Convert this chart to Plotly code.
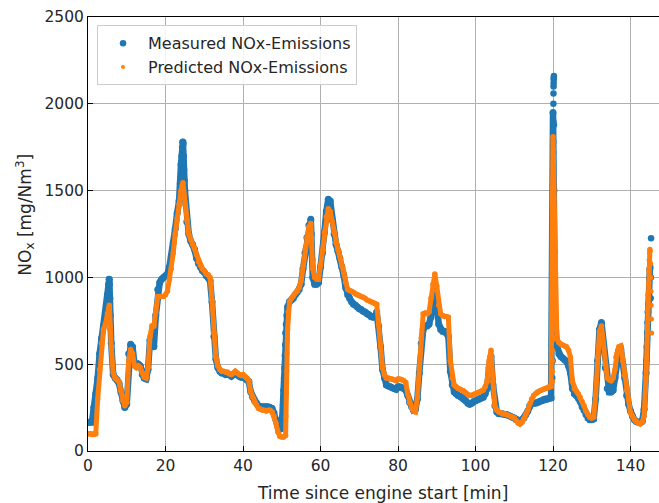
import numpy as np
import plotly.graph_objects as go

# time grid (minutes since engine start), 0.5-min steps 0 .. 145.0
t_main = np.arange(0, 145.01, 0.5)

measured = [
    165, 165, 165, 250, 330, 420, 560, 650, 720, 760,
    900, 990, 620, 440, 420, 410, 390, 340, 290, 250,
    270, 560, 615, 600, 500, 490, 500, 490, 440, 420,
    415, 470, 640, 620, 600, 780, 930, 970, 990, 1000,
    1010, 1020, 1060, 1120, 1200, 1280, 1370, 1440, 1650, 1780,
    1500, 1320, 1250, 1210, 1190, 1160, 1110, 1080, 1060, 1040,
    1030, 1010, 1000, 980, 860, 660, 530, 480, 460, 450,
    450, 440, 445, 440, 430, 440, 450, 440, 430, 425,
    425, 420, 410, 400, 340, 310, 290, 275, 260, 255,
    250, 255, 255, 255, 250, 245, 220, 180, 140, 125,
    130, 350, 680, 830, 860, 870, 880, 900, 915, 930,
    960, 1050, 1140, 1230, 1300, 1335, 1000, 960, 960, 970,
    1060, 1140, 1260, 1380, 1450, 1440, 1330, 1250, 1190, 1150,
    1110, 1060, 1010, 940, 900, 880, 860, 845, 840, 830,
    820, 815, 805, 800, 790, 785, 775, 770, 770, 800,
    720, 600, 470, 420, 380, 375, 370, 365, 360, 355,
    370, 370, 365, 360, 350, 320, 280, 255, 235, 240,
    300, 450, 620, 700, 720, 720, 730, 770, 820, 900,
    870, 730, 700, 690, 690, 680, 660, 460, 380, 340,
    330, 320, 315, 310, 300, 290, 275, 270, 275, 285,
    290, 295, 300, 305, 310, 330, 360, 480, 545, 380,
    260, 225, 215, 215, 215, 210, 210, 205, 200, 195,
    190, 180, 175, 175, 180, 190, 210, 230, 260, 275,
    275, 275, 280, 285, 290, 295, 300, 300, 305, 305,
    1950, 780, 600, 560, 545, 535, 525, 515, 490, 450,
    360, 330, 320, 305, 285, 255, 235, 210, 190, 180,
    180, 185, 300, 520, 700, 740, 620, 480, 360, 340,
    340, 350, 420, 540, 580, 585, 500, 420, 320, 270,
    230, 200, 180, 170, 165, 165, 170, 240, 450, 800,
    1050,
]

predicted = [
    100, 100, 95, 95, 100, 300, 470, 620, 700, 730,
    790, 840, 600, 450, 420, 410, 400, 345, 290, 260,
    280, 520, 585, 560, 490, 480, 490, 480, 450, 425,
    420, 480, 660, 720, 720, 800, 890, 890, 890, 890,
    900, 920, 990, 1050, 1140, 1250, 1340, 1420, 1500, 1545,
    1420, 1330, 1250, 1220, 1190, 1170, 1130, 1090, 1070, 1050,
    1040, 1020, 1015, 1000, 870, 680, 540, 490, 470, 460,
    460, 455, 455, 445, 440, 450, 460, 450, 440, 435,
    440, 430, 420, 405, 340, 310, 280, 265, 245, 240,
    235, 235, 230, 235, 235, 225, 200, 160, 110, 85,
    80, 80, 90, 700, 860, 880, 895, 910, 920, 940,
    980, 1070, 1160, 1230, 1290, 1310, 1050, 1000, 990, 990,
    1070, 1150, 1260, 1350, 1395, 1380, 1320, 1260, 1200, 1160,
    1120, 1070, 1030, 970, 930, 925, 920, 915, 905, 900,
    895, 890, 885, 880, 870, 865, 860, 855, 850, 845,
    730, 605, 480, 440, 420, 420, 415, 415, 410, 405,
    415, 415, 410, 405, 395, 330, 280, 250, 230, 225,
    310, 480, 650, 790, 795, 790, 800, 880, 960, 1020,
    950, 840, 790, 780, 775, 775, 770, 520, 420, 380,
    370, 360, 355, 350, 345, 335, 325, 320, 320, 325,
    330, 335, 340, 345, 350, 370, 400, 520, 580, 400,
    260, 235, 225, 220, 215, 215, 210, 205, 200, 195,
    190, 175, 160, 155, 165, 185, 210, 235, 270, 300,
    320, 330, 340, 345, 350, 355, 360, 365, 370, 370,
    1810, 1000, 650, 625, 615, 610, 605, 600, 580, 540,
    400, 360, 345, 330, 310, 285, 260, 230, 210, 195,
    190, 195, 320, 540, 690, 720, 620, 500, 420, 410,
    405, 420, 470, 560, 600, 605, 520, 435, 350, 300,
    220, 200, 180, 170, 160, 155, 165, 200, 420, 900,
    1160,
]

# extra samples on the steep parts of the curves
meas_fine_t = [5.25, 5.4, 5.6, 5.7, 5.8, 5.9,
               23.75, 24.15, 24.3, 24.4, 24.6, 24.7, 24.8, 24.9, 25.2,
               50.15, 50.25, 50.35, 50.45, 50.6, 50.7, 50.8, 50.9, 51.1, 51.25,
               57.7, 57.85,
               119.8, 119.9, 119.95, 119.97, 120.02, 120.04, 120.06, 120.08, 120.1,
               120.12, 120.14, 120.16, 120.18, 120.2, 120.22, 120.25, 120.3, 120.35,
               120.4, 120.45, 120.6, 120.8,
               144.1, 144.2, 144.3, 144.4, 144.65, 144.8, 144.9, 145.1, 145.2, 145.25, 145.3]
meas_fine_y = [960, 990, 960, 880, 780, 700,
               1540, 1700, 1750, 1780, 1770, 1700, 1620, 1560, 1420,
               160, 200, 260, 310, 420, 480, 550, 610, 730, 780,
               1250, 1100,
               420, 520, 830, 1170, 1500, 1720, 1780, 1900, 2000,
               2060, 2100, 2120, 2140, 2150, 2160, 1880, 1500, 1150,
               1000, 900, 700, 640,
               520, 600, 680, 740, 850, 910, 1000, 1060, 880, 1000, 1225]

pred_fine_t = [5.25, 5.75,
               24.25, 24.75,
               51.1, 51.2, 51.3, 51.35, 51.4, 51.6,
               119.9, 119.905, 119.91, 119.915, 119.92, 119.925, 119.93, 119.935,
               119.94, 119.945, 119.95, 119.955, 119.96, 119.965, 119.97, 119.975,
               119.98, 119.985, 119.99, 119.995,
               120.05, 120.08, 120.1, 120.13, 120.15, 120.18, 120.2, 120.23,
               120.25, 120.28, 120.3, 120.33, 120.35, 120.38, 120.4, 120.45,
               120.55, 120.6, 120.65, 120.7, 120.75, 120.8, 120.9,
               144.1, 144.2, 144.3, 144.4, 144.6, 144.7, 144.8, 144.9,
               145.1, 145.2, 145.25, 145.3, 145.35, 145.4, 145.45]
pred_fine_y = [820, 720,
               1530, 1480,
               200, 330, 460, 560, 640, 800,
               400, 460, 520, 580, 640, 700, 760, 820,
               880, 940, 1000, 1080, 1160, 1240, 1320, 1400,
               1480, 1560, 1640, 1720,
               1780, 1740, 1700, 1650, 1600, 1550, 1500, 1450,
               1400, 1350, 1300, 1250, 1200, 1150, 1100, 1050,
               950, 900, 850, 800, 750, 700, 660,
               520, 620, 720, 810, 960, 1040, 1100, 1140,
               1150, 1080, 1000, 920, 840, 760, 680]

blue = "#1f77b4"
orange = "#ff7f0e"

fig = go.Figure()
# measured: sampled band + extra samples on steep parts
fig.add_trace(go.Scatter(x=t_main, y=measured, mode="lines+markers",
                         line=dict(color=blue, width=6.5),
                         marker=dict(color=blue, size=7, line=dict(width=0)),
                         showlegend=False, hoverinfo="skip"))
fig.add_trace(go.Scatter(x=meas_fine_t, y=meas_fine_y, mode="markers",
                         marker=dict(color=blue, size=6.5, line=dict(width=0)),
                         showlegend=False, hoverinfo="skip"))
# predicted
fig.add_trace(go.Scatter(x=t_main, y=predicted, mode="lines+markers",
                         line=dict(color=orange, width=5),
                         marker=dict(color=orange, size=5.5, line=dict(width=0)),
                         showlegend=False, hoverinfo="skip"))
fig.add_trace(go.Scatter(x=pred_fine_t, y=pred_fine_y, mode="markers",
                         marker=dict(color=orange, size=5, line=dict(width=0)),
                         showlegend=False, hoverinfo="skip"))
# legend entries
fig.add_trace(go.Scatter(x=[None], y=[None], mode="markers", name="Measured NOx-Emissions",
                         marker=dict(color=blue, size=6.5)))
fig.add_trace(go.Scatter(x=[None], y=[None], mode="markers", name="Predicted NOx-Emissions",
                         marker=dict(color=orange, size=4)))

axis_common = dict(showline=True, linecolor="black", linewidth=1, automargin=False,
                   ticks="inside", ticklen=5, tickwidth=1, tickcolor="black",
                   showgrid=True, gridcolor="#b0b0b0", gridwidth=1, zeroline=False)

fig.update_xaxes(range=[0, 147.35], tickvals=[0, 20, 40, 60, 80, 100, 120, 140],
                 mirror=True, **axis_common)
fig.update_yaxes(range=[0, 2500], tickvals=[0, 500, 1000, 1500, 2000, 2500],
                 **axis_common)

fig.update_layout(
    width=659, height=503,
    margin=dict(l=88, r=0, t=17, b=52, autoexpand=False),
    plot_bgcolor="white", paper_bgcolor="white",
    font=dict(family="DejaVu Sans", size=15.5, color="#262626"),
    legend=dict(x=0.0158, y=0.981, xanchor="left", yanchor="top",
                bgcolor="rgba(255,255,255,0.85)", bordercolor="#cccccc", borderwidth=1,
                itemwidth=40, tracegroupgap=0,
                font=dict(size=16)),
    annotations=[
        dict(text="Time since engine start [min]", xref="paper", yref="paper",
             x=0.515, y=-0.0968, xanchor="center", yanchor="middle", showarrow=False,
             font=dict(size=17)),
        dict(text="NO<sub>x</sub> [mg/Nm<sup>3</sup>]", xref="paper", yref="paper",
             x=-0.110, y=0.545, xanchor="center", yanchor="middle", showarrow=False,
             textangle=-90, font=dict(size=17)),
    ],
)

fig.write_html("out.html",
               config={"displayModeBar": False, "staticPlot": True},
               post_script="document.body.style.margin='0';document.body.style.overflow='hidden';")
